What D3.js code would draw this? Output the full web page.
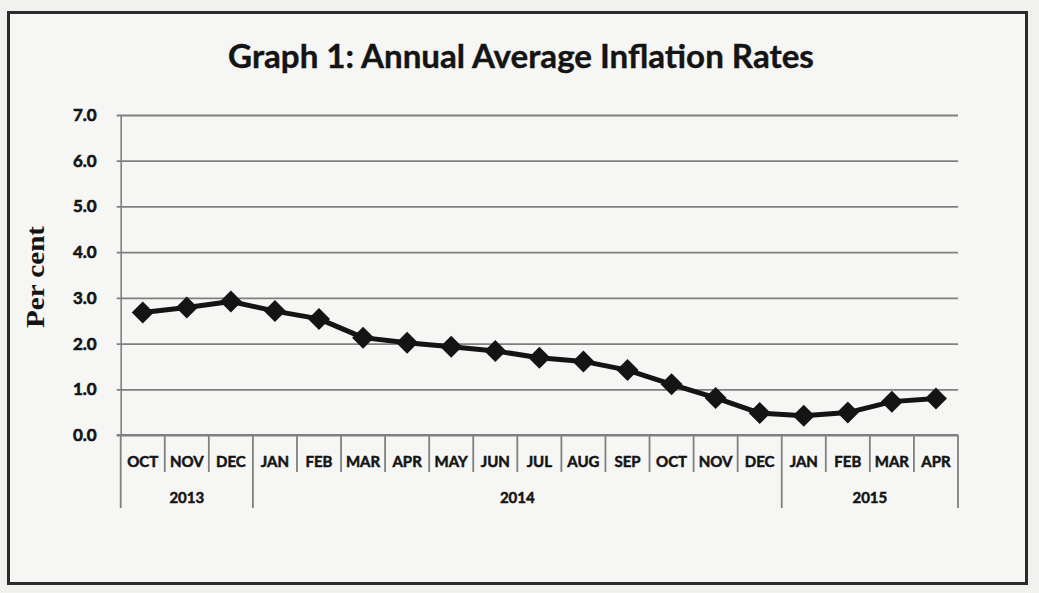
<!DOCTYPE html>
<html>
<head>
<meta charset="utf-8">
<script src="https://cdn.jsdelivr.net/npm/d3@7"></script>
<style>
html,body{margin:0;padding:0;background:#f1f1f0;}
svg{display:block;}
</style>
</head>
<body>
<svg id="chart" width="1039" height="593"></svg>
<script>
// ---- data ----
const months = ["OCT","NOV","DEC","JAN","FEB","MAR","APR","MAY","JUN","JUL","AUG","SEP","OCT","NOV","DEC","JAN","FEB","MAR","APR"];
const years = ["2013","2014","2015"];
const yearMonthCounts = [3, 12, 4];
const inflation = [2.68, 2.79, 2.92, 2.71, 2.54, 2.13, 2.02, 1.93, 1.84, 1.69, 1.61, 1.42, 1.11, 0.81, 0.48, 0.42, 0.49, 0.73, 0.80];
const yTicks = [0, 1, 2, 3, 4, 5, 6, 7];
const titleText = "Graph 1: Annual Average Inflation Rates";
const yLabel = "Per cent";

// ---- layout ----
(function () {
const svg = d3.select("#chart");
const W = 1039, H = 593;
const plotLeft = 120.7, plotRight = 958, plotTop = 115, plotBottom = 435;
const gridColor = "#808080";
const ink = "#141414";

svg.append("rect").attr("x",0).attr("y",0).attr("width",W).attr("height",H).attr("fill","#f1f1f0");
svg.append("rect").attr("x",8.5).attr("y",12.5).attr("width",1018).attr("height",571)
  .attr("fill","#f6f6f5").attr("stroke","#2b2b2b").attr("stroke-width",3);

const x = d3.scaleBand().domain(d3.range(months.length)).range([plotLeft, plotRight]).paddingInner(0).paddingOuter(0);
const y = d3.scaleLinear().domain([0, 7]).range([plotBottom, plotTop]);

// title
const title = svg.append("text").text(titleText)
  .attr("x", 521).attr("y", 68).attr("text-anchor","middle")
  .attr("font-family","Lato, 'Open Sans', sans-serif").attr("font-weight","bold")
  .attr("font-size", 26).attr("fill", ink)
  .attr("stroke", ink).attr("stroke-width", 0.4);
{
  const w = title.node().getComputedTextLength();
  title.attr("font-size", 26 * 586 / w);
}

// y axis with gridlines
const yAxis = d3.axisLeft(y).tickValues(yTicks).tickFormat(d3.format(".1f"))
  .tickSizeInner(-(plotRight - plotLeft)).tickSizeOuter(0).tickPadding(24);
const gy = svg.append("g").attr("transform", `translate(${plotLeft},0)`).call(yAxis);
gy.select(".domain").attr("stroke", gridColor).attr("stroke-width", 1.6);
gy.selectAll(".tick line").attr("x1", -4).attr("stroke", gridColor).attr("stroke-width", 1.8);
gy.selectAll(".tick text").attr("font-family","Lato, sans-serif").attr("font-weight","bold")
  .attr("font-size", 17).attr("fill", ink).attr("stroke", ink).attr("stroke-width", 0.6);

// y label
svg.append("text").text(yLabel)
  .attr("transform", "translate(44,277) rotate(-90)")
  .attr("text-anchor","middle")
  .attr("font-family","'Liberation Serif', 'DejaVu Serif', serif").attr("font-weight","bold")
  .attr("font-size", 26).attr("fill", ink)
  .attr("textLength", 102).attr("lengthAdjust","spacingAndGlyphs");

// category axis
const monthRowBottom = 472, yearRowBottom = 508;
const gx = svg.append("g");
gx.append("line").attr("x1", plotLeft - 4).attr("x2", plotRight).attr("y1", plotBottom).attr("y2", plotBottom)
  .attr("stroke", gridColor).attr("stroke-width", 2);

const yearBounds = [0];
yearMonthCounts.forEach((c, i) => yearBounds.push(yearBounds[i] + c));
const boundaryX = i => i < months.length ? x(i) : x(months.length - 1) + x.bandwidth();

d3.range(months.length + 1).forEach(i => {
  const isYear = yearBounds.includes(i);
  gx.append("line")
    .attr("x1", boundaryX(i)).attr("x2", boundaryX(i))
    .attr("y1", plotBottom).attr("y2", isYear ? yearRowBottom : monthRowBottom)
    .attr("stroke", gridColor).attr("stroke-width", 1.8);
});

gx.selectAll("text.month").data(months).join("text").attr("class","month")
  .attr("x", (d, i) => x(i) + x.bandwidth() / 2).attr("y", 461)
  .attr("text-anchor","middle").attr("dominant-baseline","central")
  .attr("font-family","Lato, sans-serif").attr("font-weight","bold")
  .attr("font-size", 15).attr("fill", ink).attr("stroke", ink).attr("stroke-width", 0.5)
  .text(d => d);

gx.selectAll("text.year").data(years).join("text").attr("class","year")
  .attr("x", (d, i) => (boundaryX(yearBounds[i]) + boundaryX(yearBounds[i + 1])) / 2)
  .attr("y", 497)
  .attr("text-anchor","middle").attr("dominant-baseline","central")
  .attr("font-family","Lato, sans-serif").attr("font-weight","bold")
  .attr("font-size", 15).attr("fill", ink).attr("stroke", ink).attr("stroke-width", 0.5)
  .text(d => d);

// line
const line = d3.line().x((d, i) => x(i) + x.bandwidth() / 2).y(d => y(d));
svg.append("path").datum(inflation).attr("d", line)
  .attr("fill","none").attr("stroke", ink).attr("stroke-width", 5).attr("stroke-linejoin","round");

// diamond markers
const dw = 11, dh = 11;
svg.selectAll("path.marker").data(inflation).join("path").attr("class","marker")
  .attr("transform", (d, i) => `translate(${x(i) + x.bandwidth() / 2},${y(d)})`)
  .attr("d", `M0,${-dh}L${dw},0L0,${dh}L${-dw},0Z`)
  .attr("fill", ink);
})();
</script>
</body>
</html>
